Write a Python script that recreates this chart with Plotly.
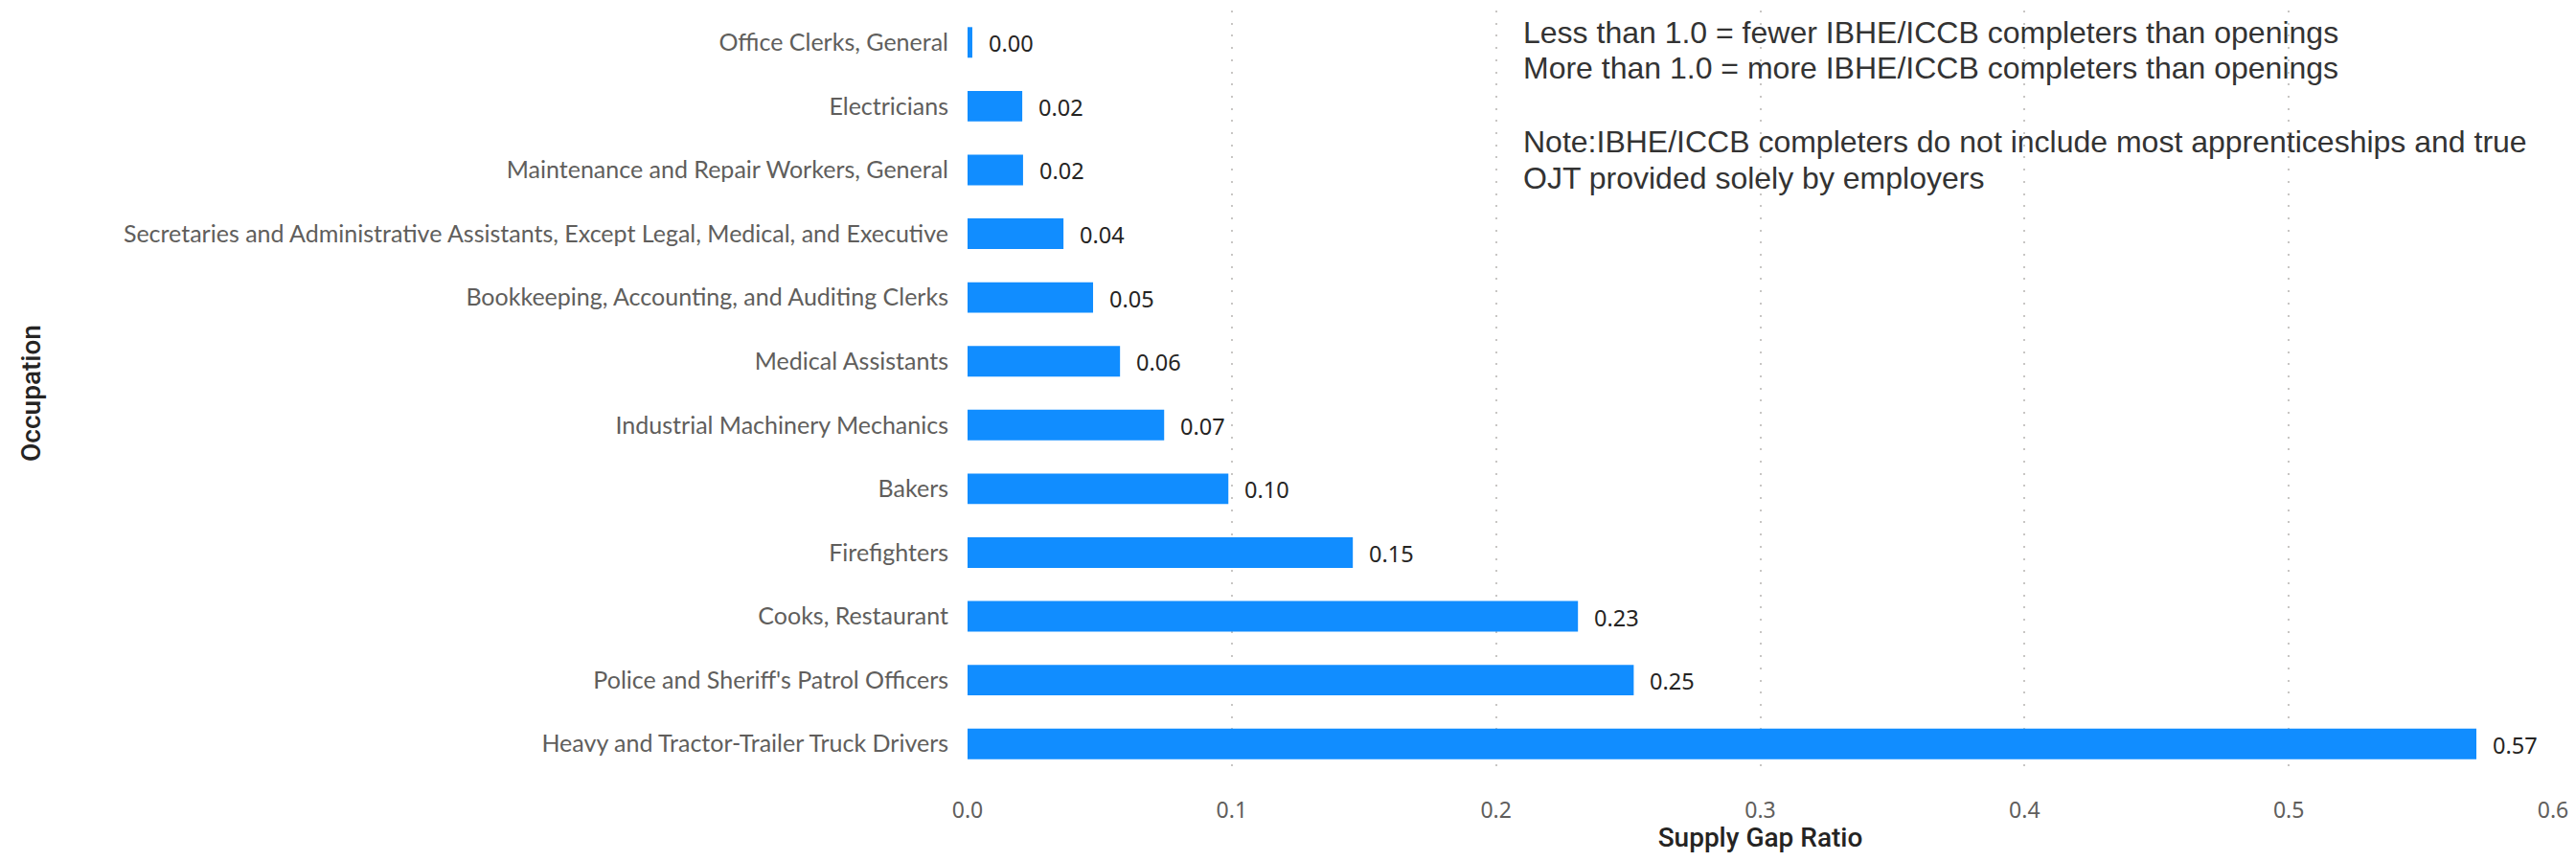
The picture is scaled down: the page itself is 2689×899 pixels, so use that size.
import plotly.graph_objects as go

occupations = [
    "Office Clerks, General",
    "Electricians",
    "Maintenance and Repair Workers, General",
    "Secretaries and Administrative Assistants, Except Legal, Medical, and Executive",
    "Bookkeeping, Accounting, and Auditing Clerks",
    "Medical Assistants",
    "Industrial Machinery Mechanics",
    "Bakers",
    "Firefighters",
    "Cooks, Restaurant",
    "Police and Sheriff's Patrol Officers",
    "Heavy and Tractor-Trailer Truck Drivers",
]
supply_gap_ratio = [0.0018, 0.0207, 0.0210, 0.0363, 0.0475, 0.0577,
                    0.0744, 0.0987, 0.1458, 0.2310, 0.2521, 0.5710]
x_ticks = [0.0, 0.1, 0.2, 0.3, 0.4, 0.5, 0.6]
note_lines = [
    "Less than 1.0 = fewer IBHE/ICCB completers than openings",
    "More than 1.0 = more IBHE/ICCB completers than openings",
    "Note:IBHE/ICCB completers do not include most apprenticeships and true",
    "OJT provided solely by employers",
]

# page has an 8px body margin; size the figure so it fits the 2689x899 window
OFF = 8
W, H = 2689 - 2 * OFF, 899 - 2 * OFF
ML = 1010 - OFF
MT = 11 - OFF
MR = W - (2665 - OFF)
MB = H - (810 - OFF)
PLOT_W = W - ML - MR
PLOT_H = H - MT - MB

fig = go.Figure()
fig.add_trace(go.Bar(
    x=supply_gap_ratio,
    y=occupations,
    orientation="h",
    marker=dict(color="#118DFF", line=dict(width=0)),
    width=0.48,
    hoverinfo="x+y",
))

for v, occ in zip(supply_gap_ratio, occupations):
    fig.add_annotation(
        x=v, y=occ, xref="x", yref="y",
        text=f"{v:.2f}", showarrow=False,
        xanchor="left", yanchor="middle", xshift=15, yshift=-1,
        font=dict(family="Segoe UI, Noto Sans", size=23.5, color="#252423"),
    )

# note text lines: page y of each line's centre
note_centres = [34, 71, 148, 186]
for line, yc in zip(note_lines, note_centres):
    fig.add_annotation(
        x=(1588 - 1010) / PLOT_W, y=((810 - OFF) - (yc - OFF)) / PLOT_H,
        xref="paper", yref="paper",
        text=line, showarrow=False, align="left",
        xanchor="left", yanchor="middle",
        font=dict(family="Arial, Liberation Sans", size=32, color="#333333"),
    )

fig.update_layout(
    width=W, height=H,
    margin=dict(l=ML, r=MR, t=MT, b=MB, autoexpand=False),
    plot_bgcolor="white", paper_bgcolor="white",
    showlegend=False,
    xaxis=dict(
        range=[0, 0.6], tickvals=x_ticks, tickformat=".1f",
        showgrid=True, gridcolor="#C8C6C4", griddash="2px,10.7px", gridwidth=2,
        zeroline=False, showline=False,
        ticks="outside", ticklen=15, tickcolor="rgba(0,0,0,0)",
        ticklabeloverflow="allow",
        tickfont=dict(family="Segoe UI, Noto Sans", size=23, color="#605E5C"),
        title=dict(text="Supply Gap Ratio", standoff=7,
                   font=dict(family="DIN, Roboto", size=28, weight=500, color="#252423")),
        automargin=False,
    ),
    yaxis=dict(
        categoryorder="array", categoryarray=occupations,
        autorange="reversed",
        showgrid=False, zeroline=False, showline=False,
        ticks="outside", ticklen=14, tickcolor="rgba(0,0,0,0)",
        tickfont=dict(family="Segoe UI, Lato", size=25, color="#605E5C"),
        title=dict(text="Occupation", standoff=78,
                   font=dict(family="DIN, Roboto", size=28, weight=500, color="#252423")),
        automargin=False,
    ),
)

fig.write_html("out.html")
